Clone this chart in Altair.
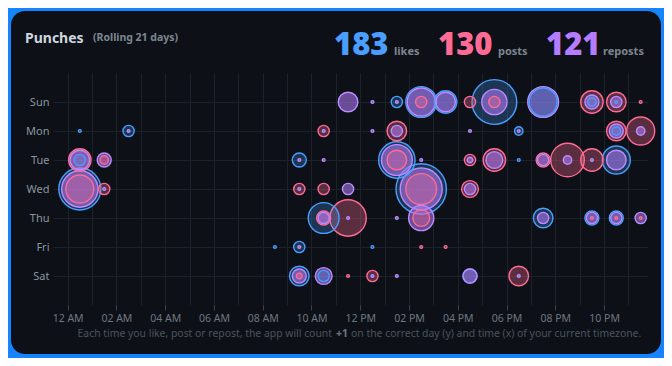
import altair as alt
import pandas as pd

days = ["Sun", "Mon", "Tue", "Wed", "Thu", "Fri", "Sat"]
hour_labels = ["12 AM", "02 AM", "04 AM", "06 AM", "08 AM", "10 AM",
               "12 PM", "02 PM", "04 PM", "06 PM", "08 PM", "10 PM"]

series_names = ["likes", "posts", "reposts"]
series_totals = [183, 130, 121]
series_stroke = ["#4a9eff", "#ff6b95", "#b98cff"]
series_fill = ["rgba(74,158,255,0.26)", "rgba(255,107,149,0.32)", "rgba(182,124,255,0.55)"]
series_text = ["#4a9eff", "#ff6b95", "#b67cff"]

likes_day = ["Sun", "Sun", "Sun", "Sun", "Sun", "Sun", "Sun",
             "Mon", "Mon", "Mon", "Mon",
             "Tue", "Tue", "Tue", "Tue", "Tue",
             "Wed", "Wed",
             "Thu", "Thu", "Thu", "Thu",
             "Fri", "Fri", "Fri",
             "Sat", "Sat", "Sat"]
likes_hour = [13, 14, 15, 17, 19, 21, 22,
              0, 2, 18, 22,
              0, 9, 13, 18, 22,
              0, 14,
              10, 19, 21, 22,
              8, 9, 12,
              9, 10, 16]
likes_count = [4, 11, 8, 16, 10, 3, 1,
               1, 4, 3, 3,
               4, 5, 13, 1, 10,
               15, 18,
               11, 7, 5, 5,
               1, 4, 1,
               7, 4, 5]

posts_day = ["Sun", "Sun", "Sun", "Sun", "Sun", "Sun",
             "Mon", "Mon", "Mon", "Mon",
             "Tue", "Tue", "Tue", "Tue", "Tue", "Tue", "Tue", "Tue",
             "Wed", "Wed", "Wed", "Wed", "Wed", "Wed",
             "Thu", "Thu", "Thu", "Thu", "Thu", "Thu",
             "Fri", "Fri",
             "Sat", "Sat", "Sat", "Sat"]
posts_hour = [14, 16, 17, 21, 22, 23,
              10, 13, 22, 23,
              0, 1, 13, 16, 17, 19, 20, 21,
              0, 1, 9, 10, 14, 16,
              10, 11, 14, 21, 22, 23,
              14, 15,
              9, 11, 12, 18]
posts_count = [4, 4, 4, 8, 7, 1,
               4, 7, 7, 10,
               8, 3, 7, 4, 8, 5, 12, 8,
               10, 4, 4, 4, 11, 6,
               5, 13, 6, 1, 1, 1,
               1, 1,
               2, 1, 4, 7]

reposts_day = ["Sun", "Sun", "Sun", "Sun", "Sun", "Sun", "Sun", "Sun", "Sun",
               "Mon", "Mon", "Mon", "Mon", "Mon", "Mon", "Mon", "Mon",
               "Tue", "Tue", "Tue", "Tue", "Tue", "Tue", "Tue", "Tue", "Tue", "Tue", "Tue", "Tue",
               "Wed", "Wed", "Wed", "Wed", "Wed", "Wed",
               "Thu", "Thu", "Thu", "Thu", "Thu", "Thu", "Thu", "Thu",
               "Fri",
               "Sat", "Sat", "Sat", "Sat", "Sat", "Sat"]
reposts_hour = [11, 12, 13, 14, 15, 17, 19, 21, 22,
                2, 10, 12, 13, 16, 18, 22, 23,
                0, 1, 9, 10, 13, 14, 16, 17, 19, 20, 21, 22,
                0, 1, 9, 11, 14, 16,
                10, 11, 13, 14, 19, 21, 22, 23,
                9,
                9, 10, 12, 13, 16, 18]
reposts_count = [7, 1, 1, 10, 7, 9, 11, 5, 4,
                 1, 1, 1, 4, 1, 1, 5, 3,
                 7, 5, 1, 1, 11, 1, 2, 6, 4, 3, 1, 7,
                 13, 1, 1, 4, 15, 4,
                 4, 1, 1, 9, 4, 4, 4, 4,
                 1,
                 5, 6, 1, 1, 5, 1]

footnote = ["Each time you like, post or repost, the app will count", "+1",
            "on the correct day (y) and time (x) of your current timezone."]

# ---- build table ----
rows = []
for name, ds, hs, cs in [("likes", likes_day, likes_hour, likes_count),
                         ("posts", posts_day, posts_hour, posts_count),
                         ("reposts", reposts_day, reposts_hour, reposts_count)]:
    for d, h, c in zip(ds, hs, cs):
        rows.append({"series": name, "day": d, "hour": h + 0.5, "count": c})
df = pd.DataFrame(rows)

FONT = "Noto Sans"
GRID = "#1b2229"

label_expr = "datum.value % 2 === 0 ? " + str(hour_labels) + "[datum.value / 2] : ''"

circles = alt.Chart(df).mark_point(filled=False, shape="circle", strokeWidth=1.4, opacity=1).encode(
    x=alt.X("hour:Q",
            scale=alt.Scale(domain=[-0.6, 23.8], nice=False, zero=False),
            axis=alt.Axis(values=list(range(24)), labelExpr=label_expr, title=None, domain=False,
                          grid=True, gridColor=GRID, tickColor="#3a424c", tickSize=5,
                          tickOpacity={"condition": {"test": "datum.value % 2 === 0", "value": 1}, "value": 0},
                          labelColor="#6e7681", labelFontSize=10.5, labelFont=FONT, labelPadding=3,
                          labelFlush=False, labelOverlap=False, labelBound=False)),
    y=alt.Y("day:N", sort=days,
            scale=alt.Scale(domain=days, type="point", padding=1),
            axis=alt.Axis(title=None, domain=False, ticks=False, grid=True, gridColor=GRID,
                          labelColor="#8b949e", labelFontSize=11, labelFont=FONT, labelPadding=4)),
    size=alt.Size("count:Q", scale=alt.Scale(type="pow", exponent=2, domain=[0, 18], range=[0, 2540]),
                  legend=None),
    fill=alt.Fill("series:N", scale=alt.Scale(domain=series_names, range=series_fill), legend=None),
    stroke=alt.Stroke("series:N", scale=alt.Scale(domain=series_names, range=series_stroke), legend=None),
    order=alt.Order("count:Q", sort="descending"),
)

one = pd.DataFrame({"a": [0]})

def txt(text, x, y, size, color, weight="normal", align="left"):
    return alt.Chart(pd.DataFrame({"t": [text]})).mark_text(
        align=align, baseline="alphabetic", font=FONT, fontSize=size, fontWeight=weight, color=color
    ).encode(x=alt.value(x), y=alt.value(y), text="t:N")

layers = [circles]
layers.append(txt("Punches", -28, -30, 14, "#cdd6df", "bold"))
layers.append(txt("(Rolling 21 days)", 40, -32, 10.5, "#7d8590", "bold"))

num_x = [281, 385, 493]
lab_x = [341, 445, 550]
for i in range(3):
    layers.append(txt(str(series_totals[i]), num_x[i], -18, 31, series_text[i], 900))
    layers.append(txt(series_names[i], lab_x[i], -18, 11, "#7d8590", "bold"))

layers.append(txt(footnote[0], 279, 264, 10.4, "#4b535d", "normal", "right"))
layers.append(txt(footnote[1], 283, 264, 10.4, "#6e7681", "bold"))
layers.append(txt(footnote[2], 298, 264, 10.4, "#4b535d", "normal"))

frame = alt.Chart(one).mark_rect(filled=False, stroke="#1684ff", strokeWidth=30, cornerRadius=29).encode(
    x=alt.value(-57), x2=alt.value(623), y=alt.value(-77), y2=alt.value(296)
)
layers.append(frame)

chart = alt.layer(*layers).properties(
    width=595, height=232,
    autosize=alt.AutoSizeParams(type="none"),
    padding={"left": 45, "top": 65, "right": 16, "bottom": 53},
    background="#0d1117",
).configure_view(stroke=None)

chart.save("out.html", embed_options={"renderer": "svg", "actions": False})
